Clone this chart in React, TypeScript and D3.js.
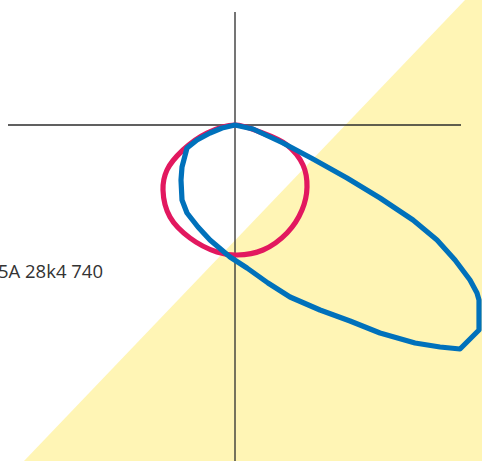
import React, { useEffect, useRef } from "react";
import * as d3 from "d3";

const width = 482,
  height = 461;

// shaded half-plane (data units)
const regionX = [2.3, -2.11, 2.47, 2.47];
const regionY = [1.25, -3.36, -3.36, 1.25];

// red loop
const redX = [0, 0.25, 0.52, 0.68, 0.72, 0.67, 0.52, 0.28, 0.02, -0.18, -0.45, -0.65, -0.72, -0.68, -0.52, -0.28];
const redY = [0, -0.07, -0.2, -0.4, -0.62, -0.85, -1.08, -1.25, -1.3, -1.27, -1.13, -0.92, -0.65, -0.45, -0.25, -0.08];

// blue loop
const blueX = [0, 0.18, 0.48, 0.78, 1.12, 1.45, 1.78, 2.02, 2.2, 2.35, 2.42, 2.44, 2.44, 2.25, 2.05, 1.8, 1.45, 1.15, 0.85, 0.55, 0.33, 0.12, -0.05, -0.25, -0.37, -0.48, -0.53, -0.54, -0.53, -0.48, -0.38, -0.25, -0.13];
const blueY = [0, -0.04, -0.18, -0.34, -0.53, -0.73, -0.95, -1.15, -1.35, -1.55, -1.68, -1.75, -2.05, -2.24, -2.22, -2.18, -2.08, -1.96, -1.85, -1.72, -1.58, -1.43, -1.32, -1.15, -1.02, -0.88, -0.75, -0.55, -0.42, -0.23, -0.15, -0.08, -0.03];

const labelText = "5A 28k4 740";

export default function App() {
  const ref = useRef<SVGSVGElement>(null);

  useEffect(() => {
    document.body.style.margin = "0";
    const svg = d3.select(ref.current);
    svg.selectAll("*").remove();

    const x = d3.scaleLinear().domain([-2.27, 2.26]).range([8, 461]);
    const y = d3.scaleLinear().domain([1.13, -3.36]).range([12, 461]);

    const zip = (xs: number[], ys: number[]) => xs.map((v, i) => [v, ys[i]] as [number, number]);

    svg.append("path")
      .attr("d", d3.line().x(d => x(d[0])).y(d => y(d[1])).curve(d3.curveLinearClosed)(zip(regionX, regionY)))
      .attr("fill", "#fff5b5");

    // axes
    svg.append("line")
      .attr("x1", x(-2.27)).attr("x2", x(2.26))
      .attr("y1", y(0)).attr("y2", y(0))
      .attr("stroke", "#2b2b2b").attr("stroke-width", 1.3);
    svg.append("line")
      .attr("x1", x(0)).attr("x2", x(0))
      .attr("y1", y(1.13)).attr("y2", y(-3.36))
      .attr("stroke", "#2b2b2b").attr("stroke-width", 1.3);

    const smooth = d3.line().x(d => x(d[0])).y(d => y(d[1])).curve(d3.curveCatmullRomClosed.alpha(0.5));
    const poly = d3.line().x(d => x(d[0])).y(d => y(d[1])).curve(d3.curveLinearClosed);

    svg.append("path")
      .attr("d", smooth(zip(redX, redY)))
      .attr("fill", "none")
      .attr("stroke", "#e2185f")
      .attr("stroke-width", 5.2)
      .attr("stroke-linejoin", "round");

    svg.append("path")
      .attr("d", poly(zip(blueX, blueY)))
      .attr("fill", "none")
      .attr("stroke", "#0071bb")
      .attr("stroke-width", 5.2)
      .attr("stroke-linejoin", "round");

    svg.append("text")
      .attr("x", 103)
      .attr("y", 278)
      .attr("text-anchor", "end")
      .attr("font-family", "'Open Sans', sans-serif")
      .attr("font-size", 18.5)
      .attr("fill", "#333")
      .text(labelText);
  }, []);

  return (
    <svg ref={ref} width={width} height={height} style={{ display: "block", position: "absolute", left: 0, top: 0 }} />
  );
}
